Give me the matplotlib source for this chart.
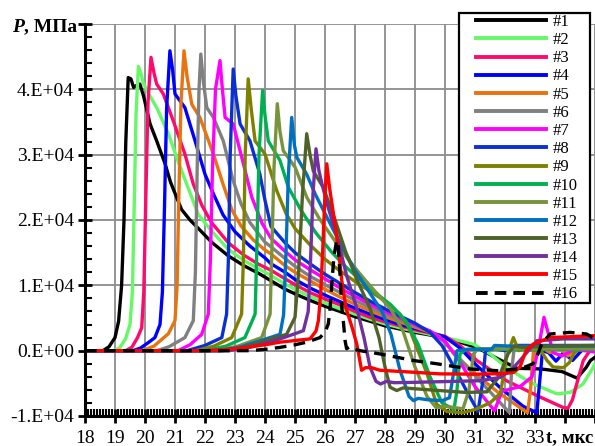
import matplotlib
matplotlib.use("Agg")
import matplotlib.pyplot as plt
from matplotlib.lines import Line2D
from matplotlib.patches import Rectangle
from matplotlib.ticker import MultipleLocator

plt.rcParams['font.family'] = ['Liberation Serif', 'DejaVu Serif']

# pressure histories P(t) at gauges #1..#16, (t [us], P [MPa])
gauge_01 = [(18.0, 0), (18.6, 0), (18.8, 600), (19.0, 2000), (19.12, 4500), (19.22, 10000), (19.3, 20000),
            (19.36, 32000), (19.44, 41800), (19.53, 41600), (19.62, 40300), (19.72, 40600), (19.83, 40800),
            (19.95, 39000), (20.17, 34700), (20.39, 32100), (20.67, 28600), (20.85, 25800), (21.06, 23400),
            (21.22, 21600), (21.5, 20000), (21.78, 18700), (22.22, 16600), (22.78, 14500), (23.3, 13000),
            (23.8, 11800), (24.2, 10700), (24.67, 9400), (25.0, 8700), (25.5, 7700), (26.0, 6800), (26.5, 6000),
            (27.0, 5200), (27.5, 4500), (28.0, 3800), (28.5, 3300), (29.0, 2800), (29.5, 2400), (30.0, 1900),
            (30.5, 1300), (31.1, 400), (31.7, -1100), (32.4, -2700), (33.2, -2800), (33.9, -3200), (34.4, -4200),
            (34.7, -2600), (34.85, -1500), (35.0, -1000)]
gauge_02 = [(18.0, 0), (18.95, 0), (19.15, 400), (19.35, 1800), (19.5, 4000), (19.58, 9000), (19.64, 22000),
            (19.7, 36000), (19.78, 43500), (19.86, 42500), (19.94, 41000), (20.1, 39500), (20.39, 37200),
            (20.78, 33200), (21.1, 29000), (21.43, 25000), (21.78, 20800), (22.22, 18300), (22.78, 15500),
            (23.3, 13800), (23.8, 12500), (24.2, 11500), (24.67, 10200), (25.0, 9400), (25.5, 8300), (26.0, 7300),
            (26.5, 6400), (27.0, 5600), (27.5, 4800), (28.0, 4100), (28.5, 3500), (29.0, 3000), (29.5, 2500),
            (30.0, 2000), (30.5, 1500), (30.94, 1000), (31.5, -500), (32.05, -2550), (32.83, -4850), (33.72, -6600),
            (34.17, -6400), (34.6, -5100), (34.94, -2550), (35.0, -2000)]
gauge_03 = [(18.0, 0), (19.35, 0), (19.56, 500), (19.75, 2000), (19.89, 3500), (19.96, 9000), (20.03, 24000),
            (20.1, 38000), (20.2, 44900), (20.3, 42500), (20.39, 40800), (20.61, 39300), (20.94, 35200),
            (21.33, 30100), (21.61, 25500), (21.9, 22200), (22.22, 19600), (22.78, 16500), (23.3, 14600),
            (23.8, 13200), (24.2, 12300), (24.67, 11000), (25.0, 10100), (25.5, 8900), (26.0, 7900), (26.5, 7000),
            (27.0, 6000), (27.5, 5100), (28.0, 4400), (28.5, 3800), (29.0, 3200), (29.5, 2700), (30.0, 2200),
            (30.5, 800), (31.06, -1500), (32.05, -4600), (33.17, -7100), (33.94, -8700), (34.1, -8800),
            (34.25, -7500), (34.39, -5100), (34.61, -1500), (34.83, 0), (35.0, 500)]
gauge_04 = [(18.0, 0), (19.6, 0), (19.85, 400), (20.1, 1200), (20.33, 2000), (20.5, 4000), (20.58, 9000),
            (20.65, 22000), (20.72, 37000), (20.83, 45900), (20.92, 43000), (21.0, 39300), (21.33, 37200),
            (21.67, 32100), (22.0, 27000), (22.28, 24000), (22.6, 20800), (23.0, 18200), (23.5, 16000),
            (24.0, 14200), (24.2, 13300), (24.67, 12000), (25.0, 10900), (25.5, 9600), (26.0, 8500), (26.5, 7500),
            (27.0, 6500), (27.5, 5600), (28.0, 4800), (28.5, 4000), (29.0, 3400), (29.5, 2800), (30.0, 2100),
            (30.5, 400), (31.0, -2000), (31.8, -5500), (32.6, -8500), (33.06, -9500), (33.15, -5000), (33.25, 0),
            (33.45, -300), (33.7, -1600), (33.95, -300), (34.25, -1500), (34.55, 0), (35.0, 300)]
gauge_05 = [(18.0, 0), (19.9, 0), (20.3, 700), (20.78, 2600), (21.0, 4600), (21.07, 10000), (21.12, 22000),
            (21.2, 38000), (21.3, 45900), (21.4, 42000), (21.56, 37700), (21.83, 35700), (22.28, 30100),
            (22.6, 25500), (22.9, 21500), (23.2, 19100), (23.6, 17000), (24.0, 15400), (24.2, 14800),
            (24.67, 13000), (25.0, 12000), (25.5, 10700), (26.0, 9400), (26.5, 8200), (27.0, 7100), (27.5, 6100),
            (28.0, 5200), (28.5, 4400), (29.0, 3600), (29.5, 2800), (30.0, 1400), (30.3, -500), (31.0, -3500),
            (31.8, -6500), (32.75, -9500), (32.85, -6000), (32.95, 0), (33.05, 1500), (33.2, 600), (33.5, -300),
            (33.8, 500), (34.1, -800), (34.4, 500), (35.0, 700)]
gauge_06 = [(18.0, 0), (20.4, 0), (20.8, 600), (21.33, 2000), (21.61, 4600), (21.68, 12000), (21.74, 28000),
            (21.8, 40000), (21.86, 45400), (21.95, 41000), (22.06, 37200), (22.28, 35700), (22.61, 32100),
            (22.94, 26000), (23.2, 22500), (23.5, 19600), (24.0, 16600), (24.2, 15900), (24.67, 14100),
            (25.0, 12900), (25.5, 11400), (26.0, 10100), (26.5, 8900), (27.0, 7700), (27.5, 6600), (28.0, 5600),
            (28.5, 4700), (29.0, 3800), (29.5, 3000), (29.8, 2200), (30.2, 200), (31.2, -4800), (32.15, -9500),
            (32.22, -3000), (32.3, 100), (33.0, 300), (35.0, 300)]
gauge_07 = [(18.0, 0), (21.1, 0), (21.5, 900), (21.89, 2500), (22.11, 5600), (22.18, 14000), (22.25, 28000),
            (22.35, 40000), (22.5, 44400), (22.58, 40000), (22.67, 35700), (22.94, 34700), (23.28, 28600),
            (23.56, 23500), (23.9, 19500), (24.2, 17200), (24.67, 15200), (25.0, 13900), (25.5, 12400),
            (26.0, 11000), (26.5, 9600), (27.0, 8300), (27.5, 7100), (28.0, 6000), (28.5, 5000), (29.0, 4000),
            (29.5, 3000), (30.0, 1400), (30.4, -1000), (31.0, -5500), (31.65, -9200), (31.9, -6200),
            (32.5, -5500), (32.9, -4000), (33.1, 0), (33.3, 5100), (33.45, 2500), (33.6, -300), (33.9, -800),
            (34.3, 200), (35.0, -200)]
gauge_08 = [(18.0, 0), (21.4, 0), (22.0, 800), (22.56, 2000), (22.72, 5600), (22.78, 14000), (22.84, 30000),
            (22.94, 43100), (23.03, 39000), (23.17, 34700), (23.5, 32100), (23.83, 27000), (24.0, 23000),
            (24.2, 19000), (24.67, 16500), (25.0, 15000), (25.5, 13300), (26.0, 11700), (26.5, 10300),
            (27.0, 8900), (27.5, 7600), (28.0, 6400), (28.5, 5300), (29.0, 4200), (29.5, 2800), (29.9, 800),
            (30.3, -2500), (30.7, -6000), (31.1, -9300), (31.25, -5000), (31.35, 0), (31.6, 300), (32.0, 0),
            (32.4, 800), (35.0, 800)]
gauge_09 = [(18.0, 0), (21.7, 0), (22.3, 700), (22.89, 2000), (23.22, 5600), (23.28, 14000), (23.34, 30000),
            (23.44, 41600), (23.54, 37000), (23.67, 32100), (24.0, 30100), (24.39, 24500), (24.7, 21000),
            (25.0, 18700), (25.5, 16200), (26.0, 14000), (26.5, 12200), (27.0, 10600), (27.5, 9100),
            (28.0, 7600), (28.5, 5600), (28.8, 3500), (29.1, 0), (29.4, -3500), (29.72, -8200), (30.06, -9300),
            (30.6, -9500), (31.0, -9000), (31.5, -8000), (31.85, -6500), (32.05, -1000), (32.28, 2000),
            (32.45, 0), (32.6, 200), (33.2, 0), (33.4, -1500), (33.6, -2500), (33.95, -2600), (34.15, -1800),
            (34.3, -400), (34.5, 300), (35.0, 500)]
gauge_10 = [(18.0, 0), (22.0, 0), (22.7, 700), (23.33, 2000), (23.67, 5600), (23.72, 14000), (23.8, 30000),
            (23.92, 39800), (24.0, 36000), (24.11, 32100), (24.5, 29100), (24.78, 25000), (25.2, 21500),
            (25.7, 18000), (26.2, 15200), (26.7, 12800), (27.2, 10700), (27.7, 8800), (28.2, 7000), (28.7, 4500),
            (29.1, 1000), (29.5, -4000), (29.9, -8000), (30.3, -9000), (30.4, -6000), (30.5, -500), (30.7, 200),
            (35.0, 200)]
gauge_11 = [(18.0, 0), (22.4, 0), (23.1, 700), (23.89, 2000), (24.17, 5600), (24.22, 14000), (24.3, 28000),
            (24.41, 37800), (24.5, 33500), (24.61, 30600), (25.0, 28100), (25.39, 23500), (25.8, 20300),
            (26.3, 17000), (26.8, 13800), (27.3, 11000), (27.8, 8400), (28.2, 6300), (28.6, 3000), (29.0, -2500),
            (29.4, -7000), (29.7, -8700), (30.0, -8500), (30.6, -8900), (30.8, -6000), (30.95, -500), (31.1, 300),
            (35.0, 300)]
gauge_12 = [(18.0, 0), (22.5, 0), (23.2, 600), (23.9, 1600), (24.5, 2500), (24.62, 5500), (24.7, 15000),
            (24.78, 27000), (24.89, 35700), (24.98, 31500), (25.06, 29600), (25.39, 27000), (25.67, 24000),
            (26.0, 21000), (26.5, 16500), (27.0, 12300), (27.5, 8800), (27.9, 6000), (28.2, 2500), (28.5, -3000),
            (28.8, -7000), (28.95, -7650), (29.1, -7300), (29.4, -7500), (29.9, -7650), (30.15, -7200),
            (30.3, -3000), (30.4, 0), (30.8, 200), (31.55, 200), (31.65, 800), (32.2, 700), (35.0, 700)]
gauge_13 = [(18.0, 0), (22.6, 0), (23.4, 600), (24.2, 1800), (24.72, 2500), (25.0, 5100), (25.12, 12000),
            (25.25, 24000), (25.39, 33200), (25.5, 30000), (25.61, 27500), (25.94, 25000), (26.3, 20500),
            (26.7, 15000), (27.1, 10500), (27.5, 6500), (27.8, 2000), (28.0, -2500), (28.17, -5600),
            (28.39, -6100), (28.6, -5700), (29.5, -6000), (30.72, -6400), (31.4, -6300), (31.8, -4000),
            (32.1, -500), (32.3, 700), (32.6, 500), (33.5, 700), (35.0, 800)]
gauge_14 = [(18.0, 0), (22.8, 0), (23.6, 600), (24.5, 1800), (24.94, 2500), (25.28, 3060), (25.44, 6000),
            (25.52, 14000), (25.6, 24000), (25.7, 30900), (25.8, 27500), (25.9, 25500), (26.1, 22000),
            (26.4, 17500), (26.72, 11500), (27.06, 6500), (27.3, 2000), (27.5, -2500), (27.7, -4700),
            (27.85, -5100), (28.05, -4700), (28.3, -4900), (28.94, -4850), (31.17, -4600), (31.83, -4100),
            (32.2, -3000), (32.5, -1500), (33.06, 1500), (33.94, 1800), (35.0, 1800)]
gauge_15 = [(18.0, 0), (22.0, 0), (23.0, 300), (24.0, 900), (24.5, 1300), (25.5, 1800), (25.7, 3000),
            (25.78, 4600), (25.86, 9000), (25.93, 16000), (25.99, 23000), (26.06, 28600), (26.15, 25000),
            (26.28, 21000), (26.44, 15800), (26.56, 10700), (26.7, 6500), (26.9, 3600), (27.06, 1000),
            (27.22, -3000), (27.35, -2600), (27.55, -2600), (27.83, -3000), (28.94, -3300), (29.83, -3550),
            (31.0, -3600), (32.0, -3500), (32.3, -3300), (32.5, -2500), (32.7, 0), (32.94, 1000), (33.5, 2000),
            (35.0, 2300)]
gauge_16 = [(18.0, 0), (23.5, 0), (24.0, 200), (24.5, 500), (25.0, 900), (25.39, 1300), (25.83, 2000),
            (26.0, 2800), (26.11, 4100), (26.17, 6500), (26.24, 11000), (26.3, 14500), (26.39, 16900),
            (26.44, 16200), (26.5, 11700), (26.56, 6600), (26.61, 4600), (26.67, 1500), (26.72, 300),
            (26.83, 600), (27.0, 200), (27.17, 0), (27.83, -500), (28.94, -1500), (29.72, -2000), (30.83, -2800),
            (31.72, -3060), (32.5, -2800), (32.94, -2000), (33.1, -500), (33.22, 1000), (33.5, 2550),
            (34.17, 2800), (34.72, 2550), (35.0, 1800)]

labels = ['#%d' % i for i in range(1, 17)]
colors = ['#000000', '#66F866', '#FF0A6C', '#0000FF', '#E8730F', '#808080', '#FF00FF', '#0A30D4',
          '#808000', '#00B050', '#77933C', '#0070C0', '#4F6228', '#7030A0', '#FF0000', '#000000']
gauges = [gauge_01, gauge_02, gauge_03, gauge_04, gauge_05, gauge_06, gauge_07, gauge_08,
          gauge_09, gauge_10, gauge_11, gauge_12, gauge_13, gauge_14, gauge_15, gauge_16]

W, H = 595, 446
fig = plt.figure(figsize=(W / 100, H / 100), dpi=100)
ax = fig.add_axes([85 / W, 1 - 416 / H, 510 / W, 392 / H])

handles = []
for pts, col, lab in zip(gauges, colors, labels):
    t = [p[0] for p in pts]
    v = [p[1] for p in pts]
    ls = (0, (3.5, 2.2)) if lab == '#16' else '-'
    ax.plot(t, v, color=col, lw=2.4, ls=ls, solid_joinstyle='round', solid_capstyle='round')
    handles.append(Line2D([], [], color=col, lw=2.8,
                          ls=(0, (3.0, 1.8)) if lab == '#16' else '-'))

ax.set_xlim(18, 35)
ax.set_ylim(-10000, 50000)

xt = list(range(18, 36))
ax.set_xticks(xt)
ax.set_xticklabels([str(x) if x <= 33 else '' for x in xt])
yt = list(range(-10000, 50001, 10000))
ax.set_yticks(yt)
ylab = []
for y in yt:
    if y == 50000:
        ylab.append('')
    elif y == 0:
        ylab.append('0.E+00')
    else:
        ylab.append('%d.E+04' % (y // 10000))
ax.set_yticklabels(ylab)
ax.xaxis.set_minor_locator(MultipleLocator(0.1))
ax.yaxis.set_minor_locator(MultipleLocator(2000))

ax.tick_params(which='major', direction='inout', length=10, width=2, labelsize=14)
ax.tick_params(axis='y', which='major', pad=3)
ax.tick_params(axis='x', which='major', pad=5)
ax.tick_params(which='minor', direction='in', length=5, width=1.5)

ax.grid(True, which='major', color='#8c8c8c', lw=1.3)
ax.set_axisbelow(True)
for s in ['top', 'right']:
    ax.spines[s].set_visible(False)
for s in ['left', 'bottom']:
    ax.spines[s].set_linewidth(2.2)

# axis titles
fig.text(12 / W, 1 - 27 / H, 'P', fontsize=14, fontweight='bold', fontstyle='italic', va='center')
fig.text(24 / W, 1 - 27 / H, ', МПа', fontsize=14, fontweight='bold', va='center')
fig.text(546 / W, 1 - 438 / H, 't, мкс', fontsize=13.5, fontweight='bold', va='center')

# legend box
box = Rectangle((459 / W, 1 - 303 / H), (590 - 459) / W, (303 - 13) / H, transform=fig.transFigure,
                facecolor='white', edgecolor='black', lw=1.6, zorder=4)
fig.add_artist(box)
leg = fig.legend(handles, labels, loc='upper left', bbox_to_anchor=(476 / W, 1 - 14 / H),
                 frameon=False, borderpad=0, borderaxespad=0, handlelength=4.2,
                 handletextpad=0.42, labelspacing=0.13, fontsize=12)
leg.set_zorder(5)

fig.savefig('out.png', dpi=100)
